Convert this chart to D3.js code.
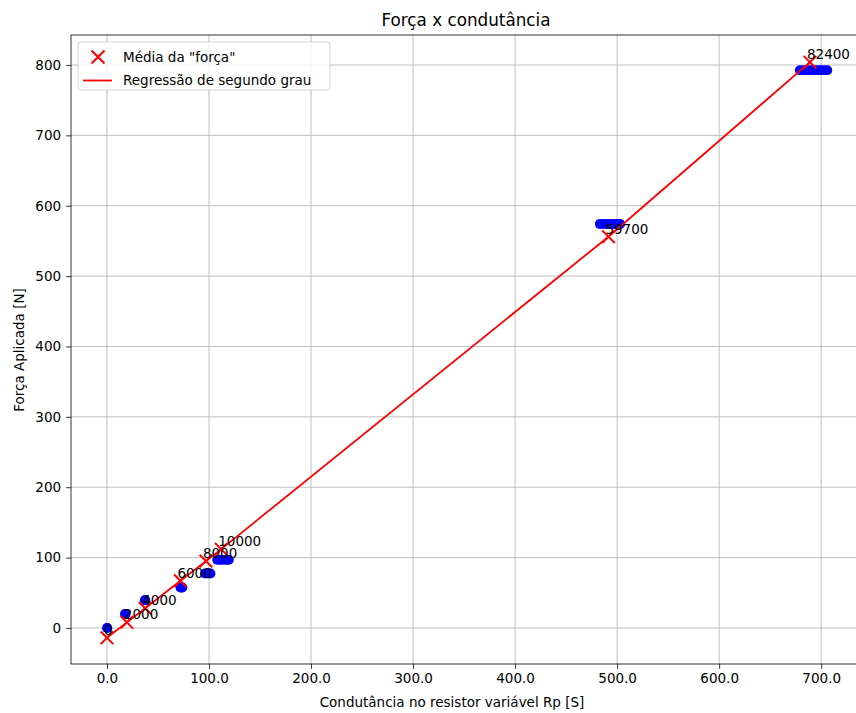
<!DOCTYPE html>
<html>
<head>
<meta charset="utf-8">
<script src="https://cdn.jsdelivr.net/npm/d3@7"></script>
<style>
  html, body { margin: 0; padding: 0; background: #fff; }
  svg { display: block; font-family: "DejaVu Sans", sans-serif; }
  .grid line { stroke: #b0b0b0; stroke-width: 0.8; }
  .axis text { font-size: 13.5px; fill: #000; font-family: "DejaVu Sans", sans-serif; }
  .axis line, .axis path { stroke: #000; stroke-width: 0.8; }
</style>
</head>
<body>
<div id="chart"></div>
<script>
// tick values
const xTicks = [0, 100, 200, 300, 400, 500, 600, 700];
const yTicks = [0, 100, 200, 300, 400, 500, 600, 700, 800];

// measured samples (blue dots): conductance [S] and applied force [N]
const sampleGroups = [
  { label: "0", force: 0, conductance: [0, 0.4] },
  { label: "2000", force: 20, conductance: [17.6, 18.4] },
  { label: "4000", force: 39.5, conductance: [37, 37.6] },
  { label: "6000", force: 57.5, conductance: [72, 73, 74] },
  { label: "8000", force: 77.5, conductance: [96, 97.5, 99, 100.5, 101.5] },
  { label: "10000", force: 96.8, conductance: [108, 110, 112, 114, 116, 118, 119.5] },
  { label: "59700", force: 574, conductance: [483, 486, 489, 492, 495, 498, 501, 503] },
  { label: "82400", force: 792.6, conductance: [679, 682, 685, 688, 691, 694, 697, 700, 703, 706] }
];

// mean points ("Média da força") and second degree regression through them
const meanX = [0, 19.5, 37.5, 72, 97, 112, 491.5, 689];
const meanY = [-14, 8, 28, 67, 95, 112, 556, 804];
const meanLabels = ["0", "2000", "4000", "6000", "8000", "10000", "59700", "82400"];

const width = 856;
const height = 713;
const margin = { top: 35, right: -6, bottom: 49, left: 71 };

const svg = d3.select("#chart").append("svg")
  .attr("width", width)
  .attr("height", height);

const x = d3.scaleLinear()
  .domain([-35.25, 740])
  .range([margin.left, width - margin.right]);

const y = d3.scaleLinear()
  .domain([-51.2, 842.6])
  .range([height - margin.bottom, margin.top]);

svg.append("defs").append("clipPath").attr("id", "plot-clip")
  .append("rect")
  .attr("x", margin.left)
  .attr("y", margin.top)
  .attr("width", width - margin.right - margin.left)
  .attr("height", height - margin.bottom - margin.top);

// grid
const grid = svg.append("g").attr("class", "grid");
grid.selectAll(".gx").data(xTicks).join("line")
  .attr("class", "gx")
  .attr("x1", (d) => x(d)).attr("x2", (d) => x(d))
  .attr("y1", margin.top).attr("y2", height - margin.bottom);
grid.selectAll(".gy").data(yTicks).join("line")
  .attr("class", "gy")
  .attr("x1", margin.left).attr("x2", width - margin.right)
  .attr("y1", (d) => y(d)).attr("y2", (d) => y(d));

const plot = svg.append("g").attr("clip-path", "url(#plot-clip)");

// blue samples
const samples = sampleGroups.flatMap((g) => g.conductance.map((c) => ({ c, f: g.force })));
plot.append("g").selectAll("circle")
  .data(samples)
  .join("circle")
  .attr("cx", (d) => x(d.c))
  .attr("cy", (d) => y(d.f))
  .attr("r", 4.9)
  .attr("fill", "#0000ff");

// regression line
const line = d3.line().x((d, i) => x(meanX[i])).y((d, i) => y(meanY[i]));
plot.append("path")
  .datum(meanX)
  .attr("d", line)
  .attr("fill", "none")
  .attr("stroke", "#ff0000")
  .attr("stroke-width", 1.8);

// mean markers
const xMark = (cx, cy, s) => `M${cx - s},${cy - s}L${cx + s},${cy + s}M${cx - s},${cy + s}L${cx + s},${cy - s}`;
plot.append("g").selectAll("path")
  .data(meanX)
  .join("path")
  .attr("d", (d, i) => xMark(x(d), y(meanY[i]), 6.3))
  .attr("stroke", "#ff0000")
  .attr("stroke-width", 2)
  .attr("fill", "none");

// annotations
svg.append("g").selectAll("text")
  .data(meanLabels)
  .join("text")
  .attr("x", (d, i) => x(meanX[i]) - 3)
  .attr("y", (d, i) => y(meanY[i]) - 3)
  .attr("font-size", 13.5)
  .attr("fill", "#000")
  .text((d) => d);

// axes
svg.append("g").attr("class", "axis")
  .attr("transform", `translate(0,${height - margin.bottom})`)
  .call(d3.axisBottom(x).tickValues(xTicks).tickFormat(d3.format(".1f")).tickSize(4.9).tickPadding(5))
  .call((g) => g.select(".domain").remove());

svg.append("g").attr("class", "axis")
  .attr("transform", `translate(${margin.left},0)`)
  .call(d3.axisLeft(y).tickValues(yTicks).tickFormat(d3.format("d")).tickSize(4.9).tickPadding(5))
  .call((g) => g.select(".domain").remove());

// frame
svg.append("rect")
  .attr("x", margin.left)
  .attr("y", margin.top)
  .attr("width", width - margin.right - margin.left)
  .attr("height", height - margin.bottom - margin.top)
  .attr("fill", "none")
  .attr("stroke", "#000")
  .attr("stroke-width", 0.8);

// titles
svg.append("text")
  .attr("x", 466).attr("y", 26)
  .attr("text-anchor", "middle")
  .attr("font-size", 16.8)
  .text("Força x condutância");

svg.append("text")
  .attr("x", 452).attr("y", 707)
  .attr("text-anchor", "middle")
  .attr("font-size", 13.5)
  .text("Condutância no resistor variável Rp [S]");

svg.append("text")
  .attr("transform", "translate(24,350) rotate(-90)")
  .attr("text-anchor", "middle")
  .attr("font-size", 13.5)
  .text("Força Aplicada [N]");

// legend
const legend = svg.append("g").attr("transform", "translate(78,42)");
legend.append("rect")
  .attr("width", 252).attr("height", 48)
  .attr("rx", 3)
  .attr("fill", "#fff").attr("fill-opacity", 0.8)
  .attr("stroke", "#d0d0d0").attr("stroke-width", 0.9);
legend.append("path")
  .attr("d", xMark(20, 15, 6.5))
  .attr("stroke", "#ff0000").attr("stroke-width", 2);
legend.append("text").attr("x", 45).attr("y", 20).attr("font-size", 13.5).text("Média da \"força\"");
legend.append("line")
  .attr("x1", 5).attr("x2", 34).attr("y1", 38.5).attr("y2", 38.5)
  .attr("stroke", "#ff0000").attr("stroke-width", 1.8);
legend.append("text").attr("x", 45).attr("y", 43).attr("font-size", 13.5).text("Regressão de segundo grau");
</script>
</body>
</html>
